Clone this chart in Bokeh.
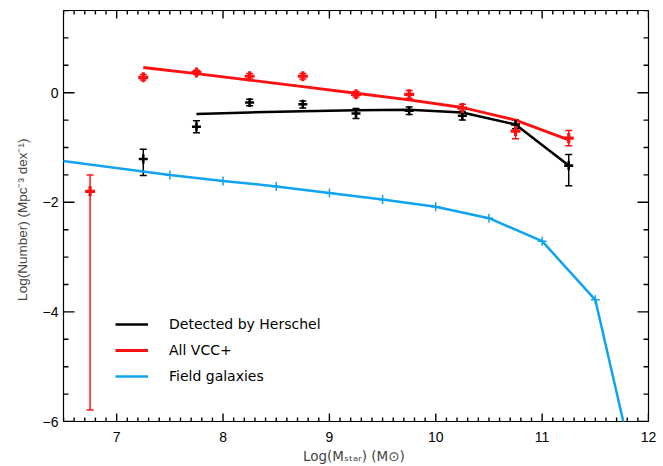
from bokeh.plotting import figure
from bokeh.models import (Range1d, LinearAxis, FixedTicker, Whisker, ColumnDataSource,
                          Legend, LegendItem, TeeHead, AllLabels)
from bokeh.embed import file_html
from bokeh.resources import INLINE
import numpy as np

# ---- data ----
vcc_x = [6.75, 7.25, 7.75, 8.25, 8.75, 9.25, 9.75, 10.25, 10.75, 11.25]
vcc_y = [-1.80, 0.28, 0.37, 0.30, 0.30, -0.03, -0.03, -0.28, -0.70, -0.83]
vcc_lo = [-5.79, 0.23, 0.33, 0.25, 0.25, -0.08, -0.10, -0.36, -0.84, -0.97]
vcc_hi = [-1.50, 0.33, 0.41, 0.35, 0.35, 0.02, 0.04, -0.21, -0.58, -0.69]

det_x = [7.25, 7.75, 8.25, 8.75, 9.25, 9.75, 10.25, 10.75, 11.25]
det_y = [-1.21, -0.62, -0.18, -0.21, -0.38, -0.33, -0.42, -0.58, -1.33]
det_lo = [-1.51, -0.73, -0.24, -0.28, -0.47, -0.40, -0.50, -0.66, -1.70]
det_hi = [-1.03, -0.51, -0.12, -0.15, -0.29, -0.26, -0.34, -0.50, -1.13]

vcc_fit_x = [7.25, 7.75, 8.25, 8.75, 9.25, 9.75, 10.25, 10.75, 11.25]
vcc_fit_y = [0.46, 0.35, 0.23, 0.11, -0.01, -0.13, -0.27, -0.50, -0.86]

det_fit_x = [7.75, 8.25, 8.75, 9.25, 9.75, 10.25, 10.75, 11.25]
det_fit_y = [-0.39, -0.36, -0.34, -0.32, -0.31, -0.36, -0.58, -1.33]

field_x = [6.0, 7.5, 8.0, 8.5, 9.0, 9.5, 10.0, 10.5, 11.0, 11.5, 12.0]
field_y = [-1.12, -1.50, -1.61, -1.71, -1.83, -1.95, -2.08, -2.29, -2.71, -3.78, -8.0]

x_major = [7, 8, 9, 10, 11, 12]
x_labels = {7: "7", 8: "8", 9: "9", 10: "10", 11: "11", 12: "12"}
y_major = [-6, -4, -2, 0]
y_labels = {-6: "\u22126", -4: "\u22124", -2: "\u22122", 0: "0"}

legend_labels = ["Detected by Herschel", "All VCC+", "Field galaxies"]
y_title = "Log(Number)  (Mpc\u207b\u00b3  dex\u207b\u00b9)"
x_title = "Log(M\u209b\u209c\u2090\u1d63)  (M\u2299)"

RED = "#ff1010"
BLUE = "#0fa3f2"
FONT = "Liberation Sans"
LFONT = "DejaVu Sans"

X0, X1, Y0, Y1 = 6.5, 12.0, -6.0, 1.5
FW, FH = 585, 411
PXX = FW / (X1 - X0)   # pixels per x unit
PXY = FH / (Y1 - Y0)   # pixels per y unit

p = figure(width=663, height=466, x_range=Range1d(X0, X1), y_range=Range1d(Y0, Y1),
           output_backend="svg", toolbar_location=None,
           min_border_left=63, min_border_right=15, min_border_top=10, min_border_bottom=45,
           x_axis_location=None, y_axis_location=None)
p.grid.visible = False
p.outline_line_color = "black"
p.outline_line_width = 1.2
p.background_fill_color = "white"

x_minor = [float(round(v, 2)) for v in np.arange(X0, X1 + 0.001, 0.1)]
y_minor = [float(round(v, 2)) for v in np.arange(Y0, Y1 + 0.001, 0.5)]

def mk_axis(kind):
    ax = LinearAxis(major_label_policy=AllLabels())
    ax.ticker = FixedTicker(ticks=x_major if kind == "x" else y_major)
    ax.major_tick_in = 0
    ax.major_tick_out = 0
    ax.minor_tick_in = 0
    ax.minor_tick_out = 0
    ax.axis_line_color = None
    ax.major_label_text_font = FONT
    ax.major_label_text_font_size = "14px"
    ax.major_label_text_color = "black"
    return ax

xb = mk_axis("x")
xb.major_label_overrides = x_labels
xb.major_label_standoff = 10
xb.axis_label = x_title
xb.axis_label_text_font = LFONT
xb.axis_label_text_font_size = "13.5px"
xb.axis_label_text_font_style = "normal"
xb.axis_label_standoff = 3
p.add_layout(xb, "below")
yl = mk_axis("y")
yl.major_label_overrides = y_labels
yl.major_label_standoff = 5
yl.axis_label = y_title
yl.axis_label_text_font = FONT
yl.axis_label_text_font_size = "13.5px"
yl.axis_label_text_font_style = "normal"
yl.axis_label_standoff = 10
p.add_layout(yl, "left")

# ---- inward tick marks on all four frame edges, from the tick arrays ----
def is_major(v, majors):
    return any(abs(v - m) < 1e-6 for m in majors)

xs0, xs1, ys0, ys1 = [], [], [], []
for v in x_minor:
    L = (8 if is_major(v, x_major) else 4) / PXY
    for edge, sgn in ((Y0, 1), (Y1, -1)):
        xs0.append(v); xs1.append(v); ys0.append(edge); ys1.append(edge + sgn * L)
for v in y_minor:
    L = (11 if is_major(v, y_major) else 5) / PXX
    for edge, sgn in ((X0, 1), (X1, -1)):
        xs0.append(edge); xs1.append(edge + sgn * L); ys0.append(v); ys1.append(v)
tick_src = ColumnDataSource(dict(x0=xs0, y0=ys0, x1=xs1, y1=ys1))
p.segment(x0="x0", y0="y0", x1="x1", y1="y1", source=tick_src, line_color="black", line_width=1.4)

# ---- field galaxies ----
field_line = p.line(field_x, field_y, line_color=BLUE, line_width=2.5)
p.scatter(field_x, field_y, marker="cross", size=9, line_color=BLUE, line_width=1.5)

# ---- fits ----
vcc_line = p.line(vcc_fit_x, vcc_fit_y, line_color=RED, line_width=2.8)
det_line = p.line(det_fit_x, det_fit_y, line_color="black", line_width=2.5)

# ---- error bars ----
vsrc = ColumnDataSource(dict(x=vcc_x, y=vcc_y, lo=vcc_lo, hi=vcc_hi))
dsrc = ColumnDataSource(dict(x=det_x, y=det_y, lo=det_lo, hi=det_hi))
for src, col in ((dsrc, "black"), (vsrc, RED)):
    w = Whisker(base="x", lower="lo", upper="hi", source=src, line_color=col, line_width=1.5,
                upper_head=TeeHead(size=7, line_color=col, line_width=1.5),
                lower_head=TeeHead(size=7, line_color=col, line_width=1.5))
    p.add_layout(w)

p.scatter("x", "y", source=dsrc, marker="cross", size=9, line_color="black", line_width=2.6)
p.scatter("x", "y", source=vsrc, marker="cross", size=10, line_color=RED, line_width=3.2)

# ---- legend ----
leg = Legend(items=[LegendItem(label=legend_labels[0], renderers=[det_line]),
                    LegendItem(label=legend_labels[1], renderers=[vcc_line]),
                    LegendItem(label=legend_labels[2], renderers=[field_line])],
             location=(52, 35), glyph_width=33, glyph_height=20, label_height=20,
             label_standoff=21, spacing=6, padding=0, margin=0,
             border_line_color=None, background_fill_alpha=0,
             label_text_font=LFONT, label_text_font_size="14px", label_text_color="black")
p.add_layout(leg, "center")

open("out.html", "w").write(file_html(p, INLINE))
